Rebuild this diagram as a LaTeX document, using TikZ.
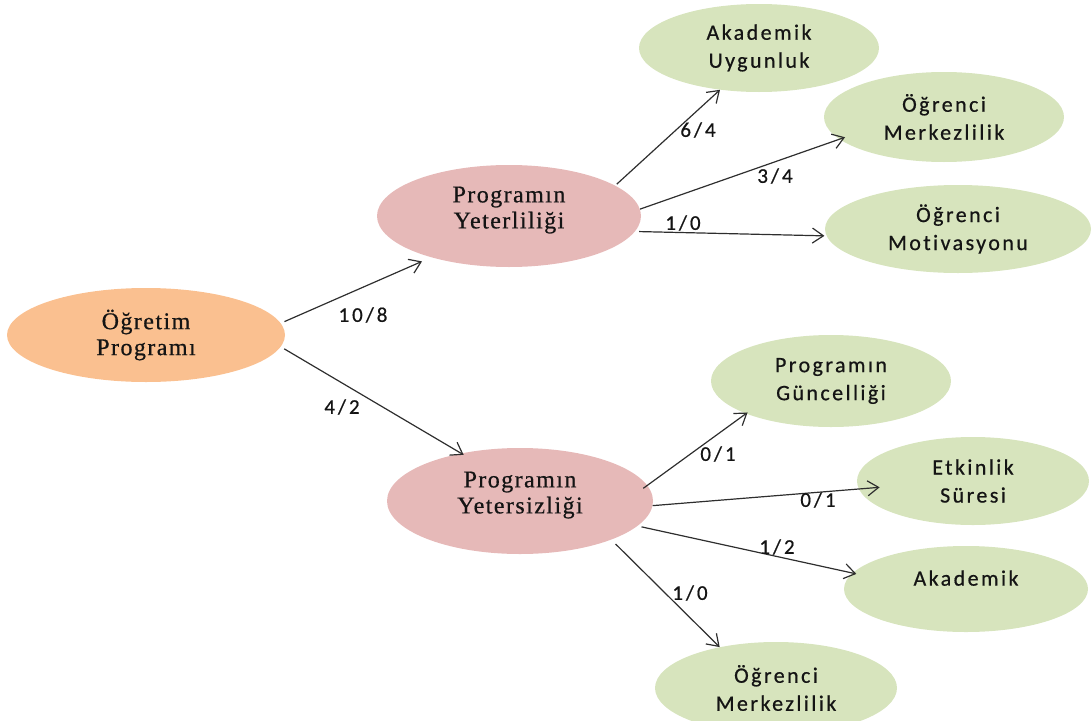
\documentclass[tikz,border=0pt]{standalone}
\usepackage{fontspec}
\usetikzlibrary{shapes.geometric,arrows.meta}
\newfontfamily\serifnode[LetterSpace=6,FakeBold=0.6]{Liberation Serif}
\newfontfamily\sansnode[LetterSpace=11,Ligatures=NoCommon,FakeBold=0.6]{Carlito}
\newfontfamily\edgefont[LetterSpace=14,Ligatures=NoCommon,FakeBold=0.6]{Carlito}
\definecolor{rootfill}{HTML}{FAC090}
\definecolor{midfill}{HTML}{E6B9B8}
\definecolor{leaffill}{HTML}{D7E4BD}
\begin{document}
\begin{tikzpicture}[x=1pt,y=-1pt,
  bubble/.style={ellipse, inner sep=0pt, align=center, text=black!92},
  root/.style={bubble, fill=rootfill, font=\serifnode\fontsize{24}{26}\selectfont},
  mid/.style={bubble, fill=midfill, text depth=17pt, font=\serifnode\fontsize{24}{26}\selectfont},
  leaf/.style={bubble, fill=leaffill, font=\sansnode\fontsize{22}{28}\selectfont},
  wt/.style={inner sep=0pt, text=black!92, font=\edgefont\fontsize{21}{22}\selectfont},
  conn/.style={draw=black!82, line width=1.2pt, -{Straight Barb[length=11pt,width=15pt,line width=1.2pt]}}
]
\useasboundingbox (0,0) rectangle (1092,720);

% nodes
\node[root, minimum width=278pt, minimum height=94pt] (O) at (146,335) {Öğretim\\Programı};
\node[mid, minimum width=264pt, minimum height=102pt] (Y1) at (509,216) {Programın\\Yeterliliği};
\node[mid, minimum width=266pt, minimum height=106pt] (Y2) at (520,501) {Programın\\Yetersizliği};

\node[leaf, minimum width=240pt, minimum height=88pt] (A1) at (759,48) {Akademik\\Uygunluk};
\node[leaf, minimum width=240pt, minimum height=90pt] (M1) at (944,117) {Öğrenci\\Merkezlilik};
\node[leaf, minimum width=266pt, minimum height=88pt] (MV) at (958,229) {Öğrenci\\Motivasyonu};

\node[leaf, minimum width=240pt, minimum height=92pt] (G) at (831,381) {Programın\\Güncelliği};
\node[leaf, minimum width=232pt, minimum height=88pt] (E) at (973,481) {Etkinlik\\Süresi};
\node[leaf, minimum width=244pt, minimum height=86pt, text depth=22pt] (A2) at (966,589) {Akademik};
\node[leaf, minimum width=242pt, minimum height=92pt] (M2) at (776,688) {Öğrenci\\Merkezlilik};

% connectors
\draw[conn, shorten <=4pt, shorten >=10pt] (O.5) -- (Y1.208);
\draw[conn, shorten <=4pt, shorten >=-3pt] (O.-5) -- (Y2.141);
\draw[conn, shorten <=2pt] (Y1.16) -- (A1.227);
\draw[conn, shorten >=-6pt] (Y1.3) -- (M1.192);
\draw[conn, shorten <=4pt, shorten >=2pt] (Y1.-7) -- (MV.183);
\draw[conn, shorten <=-5pt, shorten >=-2pt] (Y2.7) -- (G.201);
\draw[conn, shorten >=-21pt] (Y2.-2) -- (E.184);
\draw[conn, shorten <=4pt, shorten >=-4pt] (Y2.-12) -- (A2.172);
\draw[conn, shorten <=6pt] (Y2.-23) -- (M2.144);

% weights
\node[wt] (w1) at (363,315) {10/8};
\node[wt] (w2) at (342,407) {4/2};
\node[wt] (w3) at (698,130) {6/4};
\node[wt] (w4) at (775,176) {3/4};
\node[wt] (w5) at (683,223) {1/0};
\node[wt] (w6) at (718,454) {0/1};
\node[wt] (w7) at (818,500) {0/1};
\node[wt] (w8) at (777,547) {1/2};
\node[wt] (w9) at (690,593) {1/0};
\end{tikzpicture}
\end{document}
